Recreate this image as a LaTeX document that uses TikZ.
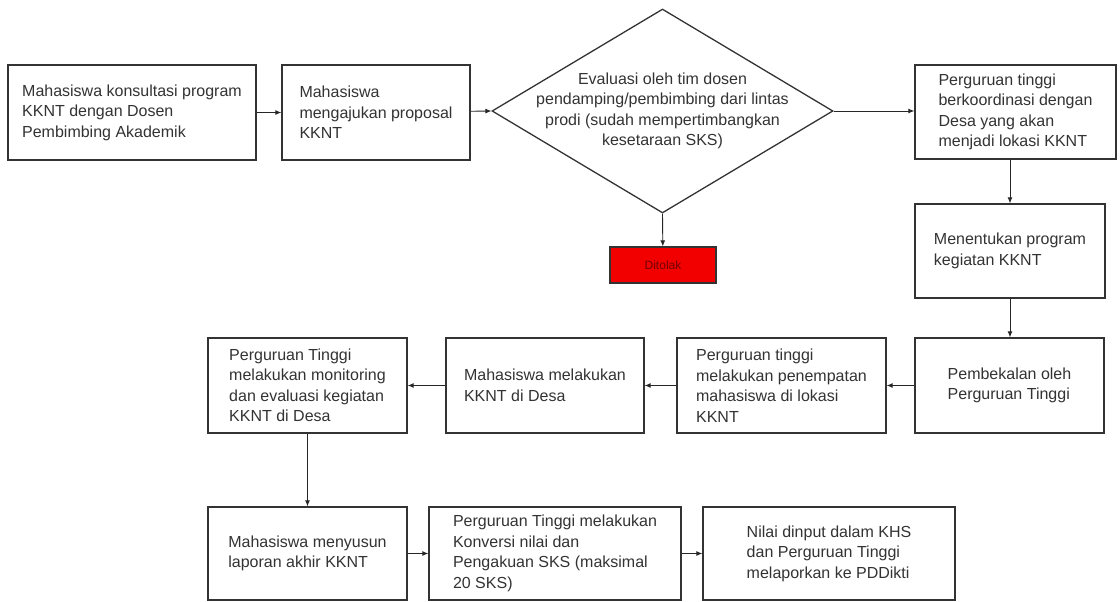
\documentclass[tikz,border=0pt]{standalone}
\usepackage{fontspec}
\setmainfont{Liberation Sans}
\usepackage{tikz}
\usetikzlibrary{shapes.geometric,arrows.meta}

\begin{document}
\begin{tikzpicture}[x=1pt,y=-1pt,
  kotak/.style={draw=black!80,line width=1.3pt,fill=white,align=left,text=black!80,
    font=\fontsize{16}{20.5}\selectfont,inner sep=0pt,minimum height=95pt},
  putusan/.style={draw=black!80,line width=1.3pt,diamond,inner sep=0pt,
    minimum width=341pt,minimum height=204pt},
  tulisan/.style={align=center,text=black!80,font=\fontsize{16}{20.5}\selectfont,inner sep=0pt},
  tolak/.style={draw=black!80,line width=1.3pt,fill=red!95!black,text=red!45!black,
    font=\fontsize{12}{14}\selectfont,minimum width=106pt,minimum height=36pt},
  panah/.style={draw=black!85,line width=0.9pt,-{Latex[length=6pt,width=5pt]}}]
\useasboundingbox (0,0) rectangle (1120,602);

\node[kotak,minimum width=248pt] (konsul) at (132,112.5)
  {Mahasiswa konsultasi program\\KKNT dengan Dosen\\Pembimbing Akademik};
\node[kotak,minimum width=188pt] (ajukan) at (376,112.5)
  {Mahasiswa\\mengajukan proposal\\KKNT};
\node[putusan] (evaluasi) at (662.5,111) {};
\node[tulisan] (evaluasiteks) at (evaluasi.center)
  {Evaluasi oleh tim dosen\\pendamping/pembimbing dari lintas\\prodi (sudah mempertimbangkan\\kesetaraan SKS)};
\node[tolak] (ditolak) at (663,265) {Ditolak};
\node[kotak,minimum width=201pt,minimum height=94pt] (koordinasi) at (1015.5,112)
  {Perguruan tinggi\\berkoordinasi dengan\\Desa yang akan\\menjadi lokasi KKNT};
\node[kotak,minimum width=190pt,minimum height=94pt] (tentukan) at (1010,251)
  {Menentukan program\\kegiatan KKNT};

\node[kotak,minimum width=189pt] (bekal) at (1009.5,385.5)
  {Pembekalan oleh\\Perguruan Tinggi};
\node[kotak,minimum width=209pt] (tempat) at (781.5,385.5)
  {Perguruan tinggi\\melakukan penempatan\\mahasiswa di lokasi\\KKNT};
\node[kotak,minimum width=198pt] (lakukan) at (545,385.5)
  {Mahasiswa melakukan\\KKNT di Desa};
\node[kotak,minimum width=199pt] (monev) at (307.5,385.5)
  {Perguruan Tinggi\\melakukan monitoring\\dan evaluasi kegiatan\\KKNT di Desa};

\node[kotak,minimum width=199pt,minimum height=93pt] (laporan) at (307.5,553.5)
  {Mahasiswa menyusun\\laporan akhir KKNT};
\node[kotak,minimum width=252pt,minimum height=93pt] (konversi) at (555,553.5)
  {Perguruan Tinggi melakukan\\Konversi nilai dan\\Pengakuan SKS (maksimal\\20 SKS)};
\node[kotak,minimum width=252pt,minimum height=93pt] (nilai) at (829,553.5)
  {Nilai dinput dalam KHS\\dan Perguruan Tinggi\\melaporkan ke PDDikti};

\draw[panah] (konsul) -- (ajukan);
\draw[panah] (ajukan) -- (evaluasi.west);
\draw[panah] (evaluasi.east) -- (koordinasi.west |- evaluasi.east);
\draw[panah] (evaluasi.south) -- (ditolak);
\draw[panah] (tentukan.north |- koordinasi.south) -- (tentukan.north);
\draw[panah] (tentukan.south) -- (tentukan.south |- bekal.north);
\draw[panah] (bekal) -- (tempat);
\draw[panah] (tempat) -- (lakukan);
\draw[panah] (lakukan) -- (monev);
\draw[panah] (monev) -- (laporan);
\draw[panah] (laporan) -- (konversi);
\draw[panah] (konversi) -- (nilai);
\end{tikzpicture}
\end{document}
